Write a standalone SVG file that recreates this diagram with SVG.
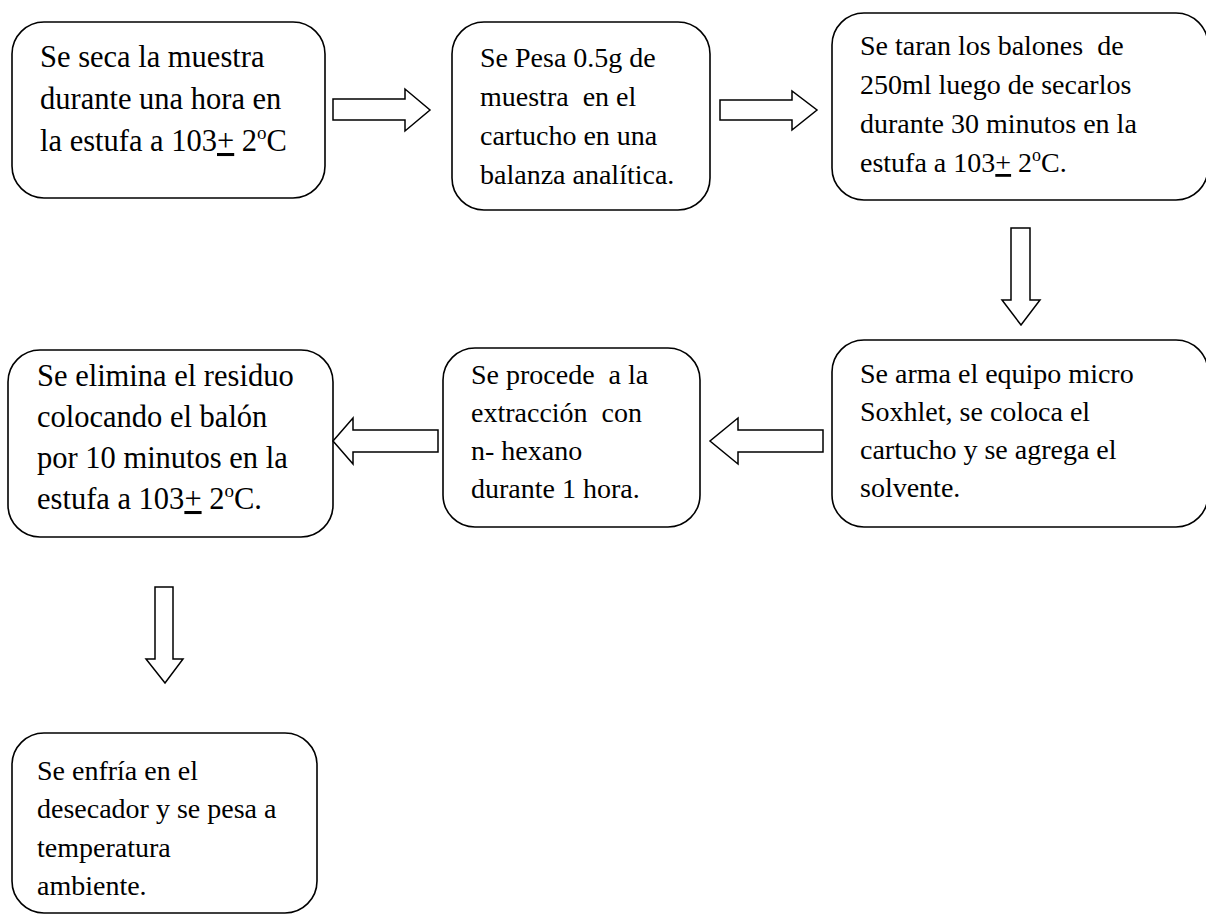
<svg xmlns="http://www.w3.org/2000/svg" width="1206" height="916" viewBox="0 0 1206 916">
<style>
.box{fill:#fff;stroke:#000;stroke-width:1.6}
.arr{fill:#fff;stroke:#000;stroke-width:1.5;stroke-linejoin:miter}
.t{font-family:"Liberation Serif","Times New Roman",serif;fill:#000;white-space:pre}
.big{font-size:30.5px}
.mid{font-size:28px}
.u{text-decoration:underline}
</style>
<rect width="1206" height="916" fill="#fff"/>
<g id="n1">
<rect class="box" x="12" y="22" width="313" height="176" rx="32"/>
<text class="t big" x="40" y="67">Se seca la muestra</text>
<text class="t big" x="40" y="109">durante una hora en</text>
<text class="t big" x="40" y="151">la estufa a 103<tspan class="u">+</tspan> 2<tspan font-size="19" dy="-12">o</tspan><tspan dy="12">C</tspan></text>
</g>
<g id="n2">
<rect class="box" x="452" y="22" width="258" height="188" rx="32"/>
<text class="t mid" x="480" y="67">Se Pesa 0.5g de</text>
<text class="t mid" x="480" y="106">muestra  en el</text>
<text class="t mid" x="480" y="145">cartucho en una</text>
<text class="t mid" x="480" y="184">balanza analítica.</text>
</g>
<g id="n3">
<rect class="box" x="832" y="13" width="376" height="187" rx="32"/>
<text class="t mid" x="860" y="55">Se taran los balones  de</text>
<text class="t mid" x="860" y="94">250ml luego de secarlos</text>
<text class="t mid" x="860" y="133">durante 30 minutos en la</text>
<text class="t mid" x="860" y="172">estufa a 103<tspan class="u">+</tspan> 2<tspan font-size="18" dy="-11">o</tspan><tspan dy="11">C.</tspan></text>
</g>
<g id="n4">
<rect class="box" x="8" y="350" width="325" height="187" rx="32"/>
<text class="t big" x="37" y="386">Se elimina el residuo</text>
<text class="t big" x="37" y="427">colocando el balón</text>
<text class="t big" x="37" y="468">por 10 minutos en la</text>
<text class="t big" x="37" y="509">estufa a 103<tspan class="u">+</tspan> 2<tspan font-size="19" dy="-12">o</tspan><tspan dy="12">C.</tspan></text>
</g>
<g id="n5">
<rect class="box" x="443" y="348" width="257" height="179" rx="32"/>
<text class="t mid" x="471" y="384">Se procede  a la</text>
<text class="t mid" x="471" y="422">extracción  con</text>
<text class="t mid" x="471" y="460">n- hexano</text>
<text class="t mid" x="471" y="498">durante 1 hora.</text>
</g>
<g id="n6">
<rect class="box" x="832" y="340" width="376" height="187" rx="32"/>
<text class="t mid" x="860" y="383">Se arma el equipo micro</text>
<text class="t mid" x="860" y="421">Soxhlet, se coloca el</text>
<text class="t mid" x="860" y="459">cartucho y se agrega el</text>
<text class="t mid" x="860" y="497">solvente.</text>
</g>
<g id="n7">
<rect class="box" x="12" y="733" width="305" height="180" rx="32"/>
<text class="t mid" x="37" y="780">Se enfría en el</text>
<text class="t mid" x="37" y="818">desecador y se pesa a</text>
<text class="t mid" x="37" y="857">temperatura</text>
<text class="t mid" x="37" y="895">ambiente.</text>
</g>
<g id="connectors">
<polygon class="arr" points="333,99 405,99 405,89 430,110 405,131 405,120 333,120"/>
<polygon class="arr" points="720,100 792,100 792,91 817,110 792,130 792,120 720,120"/>
<polygon class="arr" points="1011,228 1030,228 1030,300 1040,300 1021,325 1002,300 1011,300"/>
<polygon class="arr" points="823,430 738,430 738,418 710,441 738,464 738,452 823,452"/>
<polygon class="arr" points="438,430 353,430 353,418 333,441 353,464 353,452 438,452"/>
<polygon class="arr" points="155,587 173,587 173,659 183,659 165,683 146,659 155,659"/>
</g>
</svg>
